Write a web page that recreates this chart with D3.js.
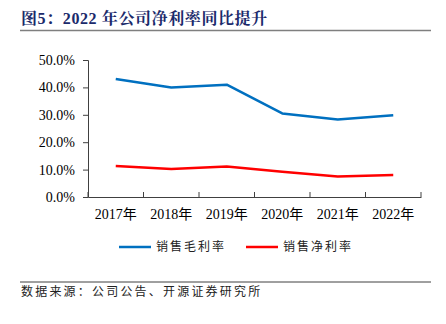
<!DOCTYPE html>
<html>
<head>
<meta charset="utf-8">
<script src="https://cdn.jsdelivr.net/npm/d3@7"></script>
<style>
  html, body { margin: 0; padding: 0; background: #fff; }
  svg { display: block; }
</style>
</head>
<body>
<div id="chart"></div>
<script>
// Margin data, 2017–2022
const years = ["2017年", "2018年", "2019年", "2020年", "2021年", "2022年"];
const grossMargin = [43.1, 40.0, 41.0, 30.5, 28.3, 29.8];
const netMargin = [11.3, 10.2, 11.1, 9.2, 7.5, 8.0];
const yTicks = [0, 10, 20, 30, 40, 50];
const seriesNames = ["销售毛利率", "销售净利率"];
const seriesColors = ["#0070c0", "#ff0000"];

const W = 446, H = 324;
const svg = d3.select("#chart").append("svg").attr("width", W).attr("height", H);

const serif = "'Liberation Serif', 'Times New Roman', 'Noto Sans CJK SC', serif";
const cjk = "'Noto Sans CJK SC', sans-serif";

// Title and rule beneath it
svg.append("text")
  .attr("x", 21).attr("y", 24)
  .attr("font-family", "'Liberation Serif', 'Noto Serif CJK SC', 'Noto Sans CJK SC', serif")
  .attr("font-weight", "bold").attr("font-size", 16)
  .attr("letter-spacing", 0.6)
  .attr("fill", "#1b2a6b")
  .text("图5：2022 年公司净利率同比提升");
svg.append("line").attr("x1", 20).attr("x2", 431).attr("y1", 30.5).attr("y2", 30.5)
  .attr("stroke", "#7f7f7f").attr("stroke-width", 1.5);

// Scales
const x = d3.scaleBand().domain(years).range([88, 421]);
const y = d3.scaleLinear().domain([0, 50]).range([197, 60]);

// Y axis
const yAxis = svg.append("g").attr("transform", "translate(88,0)")
  .call(d3.axisLeft(y).tickValues(yTicks).tickFormat(d => d.toFixed(1) + "%").tickSize(5).tickPadding(8));
yAxis.select(".domain").attr("stroke", "#404040");
yAxis.selectAll(".tick line").attr("stroke", "#404040");
yAxis.selectAll("text").attr("font-family", serif).attr("font-size", 14).attr("fill", "#000");

// X axis
const xAxis = svg.append("g").attr("transform", "translate(0,197)")
  .call(d3.axisBottom(x).tickSizeOuter(0).tickSize(0).tickPadding(12));
xAxis.select(".domain").attr("stroke", "#404040");
xAxis.selectAll("text").attr("font-family", serif).attr("font-size", 14).attr("fill", "#000");
// Tick marks at band boundaries
const bounds = years.map(d => x(d)).concat([x.range()[1]]);
svg.append("g").selectAll("line").data(bounds).join("line")
  .attr("x1", d => d).attr("x2", d => d)
  .attr("y1", 197).attr("y2", 192)
  .attr("stroke", "#404040");

// Lines
const line = d3.line()
  .x((d, i) => x(years[i]) + x.bandwidth() / 2)
  .y(d => y(d));
[grossMargin, netMargin].forEach((s, i) => {
  svg.append("path").datum(s)
    .attr("d", line)
    .attr("fill", "none")
    .attr("stroke", seriesColors[i])
    .attr("stroke-width", 2.5)
    .attr("stroke-linejoin", "round");
});

// Legend
const legendX = [119, 246];
seriesNames.forEach((name, i) => {
  const g = svg.append("g").attr("transform", `translate(${legendX[i]},247)`);
  g.append("line").attr("x1", 0).attr("x2", 32).attr("y1", 0).attr("y2", 0)
    .attr("stroke", seriesColors[i]).attr("stroke-width", 2.5);
  g.append("text").attr("x", 37).attr("y", 0).attr("dy", "0.35em")
    .attr("font-family", cjk).attr("font-size", 12).attr("fill", "#222")
    .attr("letter-spacing", 2)
    .text(name);
});

// Source note
svg.append("line").attr("x1", 20).attr("x2", 431).attr("y1", 282).attr("y2", 282)
  .attr("stroke", "#404040").attr("stroke-width", 1);
svg.append("text").attr("x", 21).attr("y", 296)
  .attr("font-family", cjk).attr("font-size", 12).attr("fill", "#222")
  .attr("letter-spacing", 2.2)
  .text("数据来源：公司公告、开源证券研究所");
</script>
</body>
</html>
